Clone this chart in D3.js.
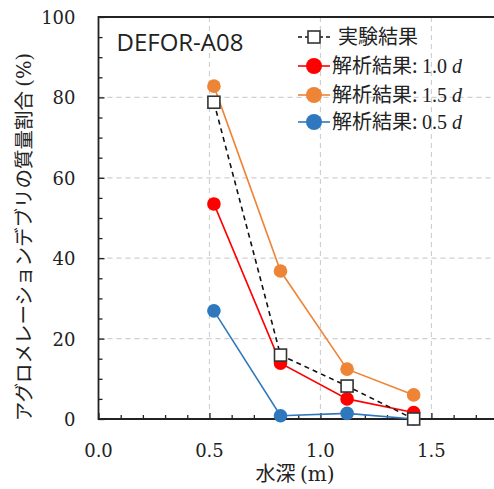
<!DOCTYPE html>
<html>
<head>
<meta charset="utf-8">
<script src="https://cdn.jsdelivr.net/npm/d3@7"></script>
<style>
  body { margin: 0; background: #fff; }
  svg { display: block; }
</style>
</head>
<body>
<div id="chart"></div>
<script>
// データ
const depths = [0.52, 0.82, 1.12, 1.42];
const experiment = [78.8, 15.9, 8.2, 0];
const analysis10 = [53.5, 13.9, 5.0, 1.6];
const analysis15 = [82.8, 36.8, 12.4, 6.0];
const analysis05 = [26.9, 0.8, 1.4, 0];
const xTicks = [0, 0.5, 1.0, 1.5];
const yTicks = [0, 20, 40, 60, 80, 100];

function chart() {
  const W = 494, H = 489;
  const margin = { top: 17, right: -4, bottom: 70, left: 98.5 };
  const width = W - margin.left - margin.right;
  const height = H - margin.top - margin.bottom;

  const svg = d3.select("#chart").append("svg")
    .attr("width", W).attr("height", H);
  const g = svg.append("g")
    .attr("transform", `translate(${margin.left},${margin.top})`);

  const x = d3.scaleLinear().domain([0, 1.8]).range([0, width]);
  const y = d3.scaleLinear().domain([0, 100]).range([height, 0]);

  // グリッド
  g.append("g").selectAll("line")
    .data(xTicks.filter(d => d > 0))
    .join("line")
    .attr("x1", d => x(d)).attr("x2", d => x(d))
    .attr("y1", 0).attr("y2", height)
    .attr("stroke", "#d0d0d0").attr("stroke-width", 1.2)
    .attr("stroke-dasharray", "5,4");
  g.append("g").selectAll("line")
    .data(yTicks.filter(d => d > 0 && d < 100))
    .join("line")
    .attr("x1", 0).attr("x2", width)
    .attr("y1", d => y(d)).attr("y2", d => y(d))
    .attr("stroke", "#d0d0d0").attr("stroke-width", 1.2)
    .attr("stroke-dasharray", "5,4");

  const tickFont = "'DejaVu Serif', 'Liberation Serif', serif";

  // X軸 (目盛りは内向き)
  const xAxis = g.append("g").attr("transform", `translate(0,${height})`)
    .call(d3.axisBottom(x).tickValues(d3.range(0, 19).map(i => i / 10))
      .tickSize(0).tickFormat(""));
  xAxis.select(".domain").remove();
  xAxis.selectAll(".tick line")
    .attr("y2", d => Math.abs(d * 2 - Math.round(d * 2)) < 1e-6 ? -6 : -4)
    .attr("stroke", "#222").attr("stroke-width", 1.3);
  g.append("g").selectAll("text")
    .data(xTicks).join("text")
    .attr("x", d => x(d)).attr("y", height + 38)
    .attr("text-anchor", "middle")
    .style("font-family", tickFont).style("font-size", "18px")
    .attr("fill", "#222")
    .text(d => d.toFixed(1));

  // Y軸
  const yAxis = g.append("g")
    .call(d3.axisLeft(y).tickValues(d3.range(0, 101, 5)).tickSize(0).tickFormat(""));
  yAxis.select(".domain").remove();
  yAxis.selectAll(".tick line")
    .attr("x2", d => d % 20 === 0 ? 6 : 4)
    .attr("stroke", "#222").attr("stroke-width", 1.3);
  g.append("g").selectAll("text")
    .data(yTicks).join("text")
    .attr("x", -23).attr("y", d => y(d) + 7)
    .attr("text-anchor", "end")
    .style("font-family", tickFont).style("font-size", "18px")
    .attr("fill", "#222")
    .text(d => d);

  // 枠線 (左・下・上)
  g.append("path")
    .attr("d", `M${width},0H0V${height}H${width}`)
    .attr("fill", "none").attr("stroke", "#222").attr("stroke-width", 1.8);

  const sansJP = "'Noto Sans CJK JP', 'Noto Sans', sans-serif";

  // 軸ラベル
  const xl = svg.append("text")
    .attr("x", 295).attr("y", 481)
    .attr("text-anchor", "middle")
    .style("font-size", "20px")
    .attr("fill", "#222");
  xl.append("tspan").style("font-family", sansJP).text("水深 ");
  xl.append("tspan").style("font-family", tickFont).text("(m)");

  const yl = svg.append("text")
    .attr("transform", `translate(31,237) rotate(-90)`)
    .attr("text-anchor", "middle")
    .style("font-size", "19.5px")
    .attr("fill", "#222");
  yl.append("tspan").style("font-family", sansJP).text("アグロメレーションデブリの質量割合 ");
  yl.append("tspan").style("font-family", tickFont).text("(%)");

  // タイトル
  g.append("text")
    .attr("x", 18).attr("y", 34)
    .style("font-family", "'Open Sans', 'Noto Sans', sans-serif")
    .style("font-size", "24px")
    .attr("fill", "#222")
    .text("DEFOR-A08");

  // 系列
  const series = [
    { key: "1.5", values: analysis15, color: "#ee8436" },
    { key: "1.0", values: analysis10, color: "#ff0000" },
    { key: "0.5", values: analysis05, color: "#2f78bd" }
  ];
  const line = d3.line().x(d => x(d[0])).y(d => y(d[1]));

  series.forEach(s => {
    const pts = depths.map((d, i) => [d, s.values[i]]);
    g.append("path").datum(pts)
      .attr("d", line).attr("fill", "none")
      .attr("stroke", s.color).attr("stroke-width", 1.6);
    g.append("g").selectAll("circle").data(pts).join("circle")
      .attr("cx", d => x(d[0])).attr("cy", d => y(d[1]))
      .attr("r", 6.8).attr("fill", s.color);
  });

  // 実験結果
  const expPts = depths.map((d, i) => [d, experiment[i]]);
  g.append("path").datum(expPts)
    .attr("d", line).attr("fill", "none")
    .attr("stroke", "#111").attr("stroke-width", 1.6)
    .attr("stroke-dasharray", "5,4");
  g.append("g").selectAll("rect").data(expPts).join("rect")
    .attr("x", d => x(d[0]) - 6).attr("y", d => y(d[1]) - 6)
    .attr("width", 12).attr("height", 12)
    .attr("fill", "#fff").attr("stroke", "#333").attr("stroke-width", 1.6);

  // 凡例
  const legend = svg.append("g").attr("transform", "translate(298,0)");
  const ly = [37, 66, 95, 122];
  legend.append("line").attr("x1", 0).attr("x2", 32).attr("y1", ly[0]).attr("y2", ly[0])
    .attr("stroke", "#111").attr("stroke-width", 1.6).attr("stroke-dasharray", "4,3");
  legend.append("rect").attr("x", 10).attr("y", ly[0] - 6).attr("width", 12).attr("height", 12)
    .attr("fill", "#fff").attr("stroke", "#333").attr("stroke-width", 1.6);
  legend.append("text").attr("x", 40).attr("y", ly[0] + 7)
    .style("font-family", sansJP).style("font-size", "20px").attr("fill", "#222")
    .text("実験結果");

  const legSeries = [series[1], series[0], series[2]];
  legSeries.forEach((s, i) => {
    const yy = ly[i + 1];
    legend.append("line").attr("x1", 0).attr("x2", 32).attr("y1", yy).attr("y2", yy)
      .attr("stroke", s.color).attr("stroke-width", 1.6);
    legend.append("circle").attr("cx", 16).attr("cy", yy).attr("r", 8).attr("fill", s.color);
    const t = legend.append("text").attr("x", 34).attr("y", yy + 7)
      .style("font-size", "20px").attr("fill", "#222");
    t.append("tspan").style("font-family", sansJP).text("解析結果: ");
    t.append("tspan").style("font-family", "'Liberation Serif', serif").text(s.key + " ");
    t.append("tspan").style("font-family", "'Liberation Serif', serif").style("font-style", "italic").text("d");
  });
}
chart();
</script>
</body>
</html>
